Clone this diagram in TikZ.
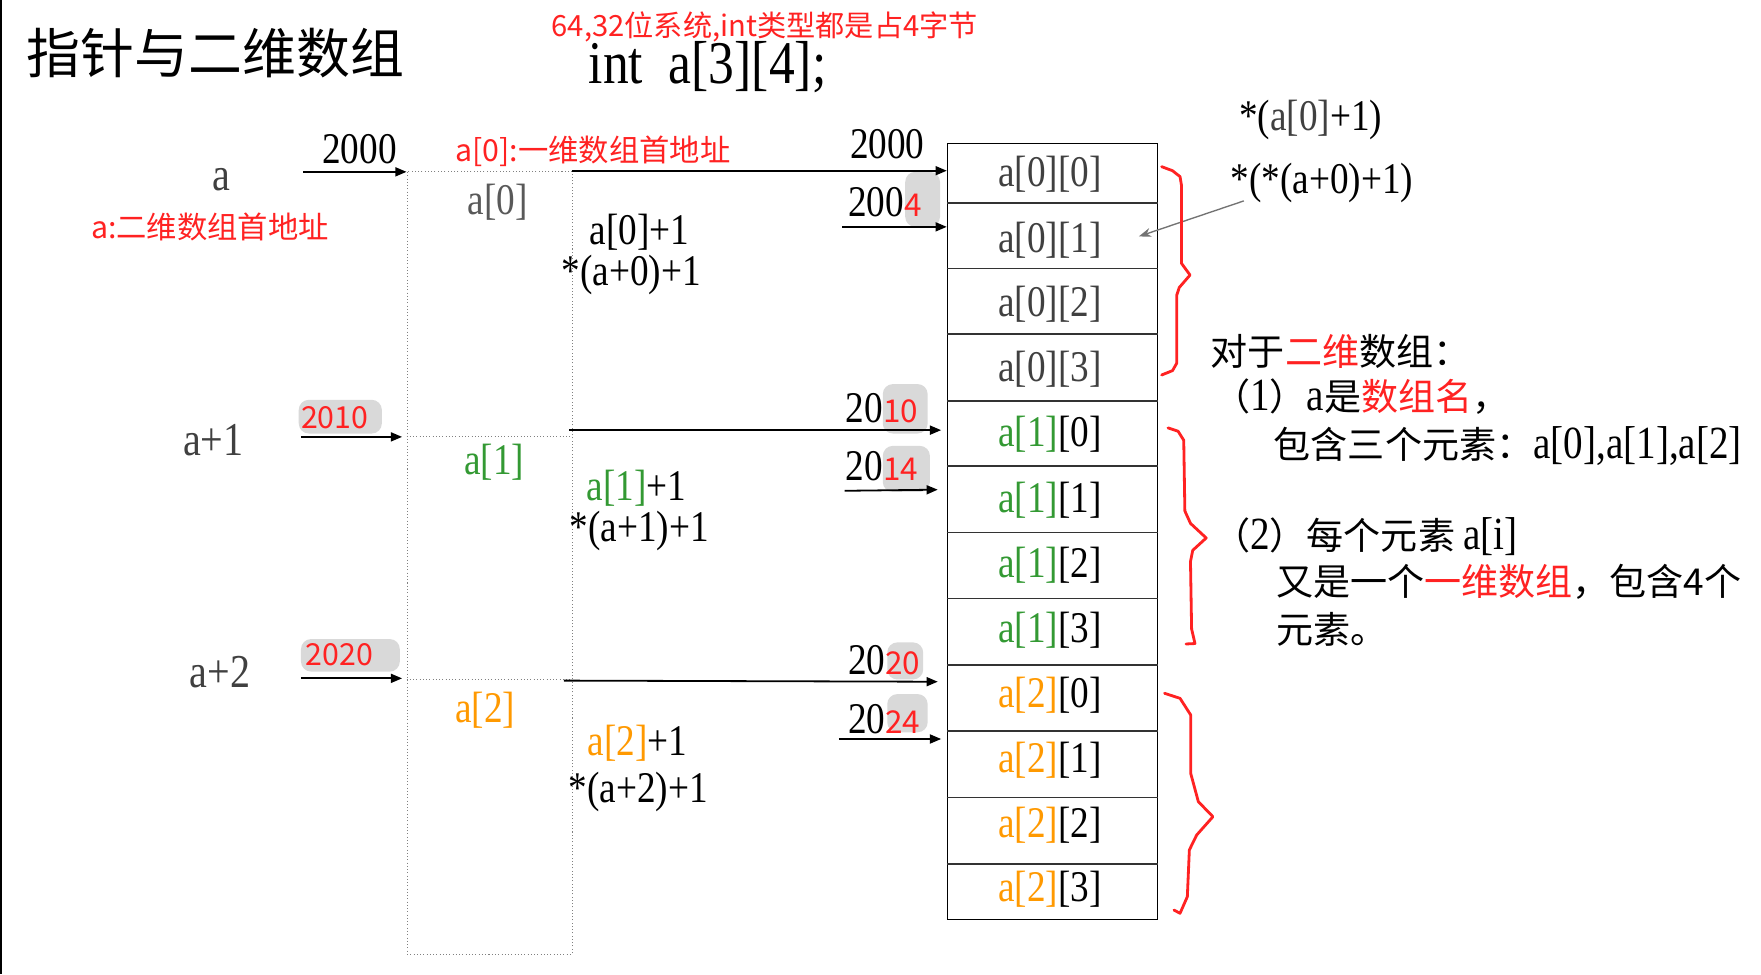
\documentclass[tikz,border=0pt]{standalone}
\usepackage{fontspec}
\usetikzlibrary{arrows.meta}
\newfontfamily\tnr[FakeStretch=0.85]{Liberation Serif}
\newfontfamily\cjk{Noto Sans CJK SC}
\newcommand\myfs[1]{\fontsize{#1}{#1}\selectfont}
\definecolor{txtgray}{HTML}{404040}
\definecolor{grn}{HTML}{339933}
\definecolor{org}{HTML}{FF9900}
\definecolor{rd}{HTML}{FF2222}
\definecolor{blob}{HTML}{D9D9D9}
\begin{document}
\begin{tikzpicture}[x=1pt,y=-1pt,
  lbl/.style={font=\tnr\myfs{39}, inner sep=0pt, text=txtgray},
  num/.style={font=\tnr\myfs{39}, inner sep=0pt, text=black},
  rnote/.style={font=\cjk\myfs{27}, inner sep=0pt, text=rd},
  side/.style={font=\cjk\myfs{33}, inner sep=0pt, text=black, anchor=west},
  ptr/.style={line width=1.6pt, -{Triangle[length=10pt,width=8pt]}},
  cellline/.style={line width=1.5pt, draw=black!80},
  dotline/.style={draw=gray, dotted, line width=0.9pt},
  bracepath/.style={draw=rd, line width=2.5pt, line join=round, line cap=round},
  blobfill/.style={fill=blob, rounded corners=9pt, draw=none},
  grayarrow/.style={draw=black!55, line width=1.2pt, -{Stealth[length=11pt,width=8pt]}}
]
\useasboundingbox (0,0) rectangle (1568,867.3);
\fill[white] (0,0) rectangle (1568,867.3);
\draw[line width=1.5pt] (1,0) -- (1,867.3);

% title and header
\node[font=\cjk\myfs{48}, inner sep=0pt] (title) at (192,47) {指针与二维数组};
\node[font=\cjk\myfs{26}, text=rd, inner sep=0pt] (sysnote) at (681,24) {64,32位系统,int类型都是占4字节};
\node[font=\tnr\myfs{54}, inner sep=0pt] (decl) at (630,60) {int\ \ a[3][4];};

% gray blobs behind red digits
\path[blobfill] (266,356) rectangle (340,386);
\path[blobfill] (268,569) rectangle (356,598);
\path[blobfill] (806,153) rectangle (837,202);
\path[blobfill] (786,342) rectangle (826,386);
\path[blobfill] (786,397) rectangle (828,438);
\path[blobfill] (790,572) rectangle (822,605);
\path[blobfill] (790,618) rectangle (826,652);

% left pointer labels
\node[lbl, font=\tnr\myfs{42}] (la) at (197,160) {a};
\node[rnote] (lanote) at (187,202) {a:二维数组首地址};
\node[lbl, font=\tnr\myfs{42}] (la1) at (190,392) {a+1};
\node[lbl, font=\tnr\myfs{42}] (la2) at (196,598) {a+2};
\node[num] (ad0) at (320,133) {2000};
\node[rnote] (ad1) at (298,372) {2010};
\node[rnote] (ad2) at (302,583) {2020};

% middle column (dotted)
\node[dotline, minimum width=147pt, minimum height=697pt, inner sep=0pt, anchor=north west] (col) at (362,152) {};
\draw[dotline] (362,389) -- (509,389);
\draw[dotline] (362,605) -- (509,605);
\node[lbl, text=black!65] (r0) at (443,180) {a[0]};
\node[lbl, text=grn] (r1) at (440,412) {a[1]};
\node[lbl, text=org] (r2) at (432,632) {a[2]};
\node[rnote] (r0note) at (528,135) {a[0]:一维数组首地址};

\node[num, anchor=west] (p0a) at (525,207) {a[0]+1};
\node[num, anchor=west] (p0b) at (500,245) {*(a+0)+1};
\node[num, anchor=west] (p1a) at (522,435) {\textcolor{grn}{a[1]}+1};
\node[num, anchor=west] (p1b) at (507,473) {*(a+1)+1};
\node[num, anchor=west] (p2a) at (523,662) {\textcolor{org}{a[2]}+1};
\node[num, anchor=west] (p2b) at (506,705) {*(a+2)+1};

% right address labels
\node[num] (b00) at (790,128) {2000};
\node[num, anchor=west] (b01) at (755,180) {200{\cjk\myfs{28}\color{rd}4}};
\node[num, anchor=west] (b10) at (753,363) {20{\cjk\myfs{28}\color{rd}10}};
\node[num, anchor=west] (b11) at (753,415) {20{\cjk\myfs{28}\color{rd}14}};
\node[num, anchor=west] (b20) at (755,588) {20{\cjk\myfs{28}\color{rd}20}};
\node[num, anchor=west] (b21) at (755,640) {20{\cjk\myfs{28}\color{rd}24}};

% array box
\node[draw, line width=1.5pt, minimum width=187pt, minimum height=691pt, inner sep=0pt, anchor=north west] (arr) at (843,127) {};
\foreach \yy in {180.5,239,297.5,357,415,474,533,592,651,710,769}
  \draw[cellline] (843,\yy) -- (1031,\yy);

\node[lbl] (c00) at (935,155) {a[0][0]};
\node[lbl] (c01) at (935,214) {a[0][1]};
\node[lbl] (c02) at (935,271) {a[0][2]};
\node[lbl] (c03) at (935,329) {a[0][3]};
\node[lbl, text=black] (c10) at (935,387) {\textcolor{grn}{a[1]}[0]};
\node[lbl, text=black] (c11) at (935,445) {\textcolor{grn}{a[1]}[1]};
\node[lbl, text=black] (c12) at (935,503) {\textcolor{grn}{a[1]}[2]};
\node[lbl, text=black] (c13) at (935,561) {\textcolor{grn}{a[1]}[3]};
\node[lbl, text=black] (c20) at (935,619) {\textcolor{org}{a[2]}[0]};
\node[lbl, text=black] (c21) at (935,677) {\textcolor{org}{a[2]}[1]};
\node[lbl, text=black] (c22) at (935,735) {\textcolor{org}{a[2]}[2]};
\node[lbl, text=black] (c23) at (935,792) {\textcolor{org}{a[2]}[3]};

% arrow coordinates
\coordinate (sa) at (270,153);   \coordinate (ea) at (362,153);
\coordinate (sa1) at (268,389);  \coordinate (ea1) at (358,389);
\coordinate (sa2) at (268,604);  \coordinate (ea2) at (358,604);
\coordinate (s00) at (509,152);  \coordinate (e00) at (843,152);
\coordinate (s01) at (750,202);  \coordinate (e01) at (843,202);
\coordinate (s10) at (507,383);  \coordinate (e10) at (838,383);
\coordinate (s11) at (752,437);  \coordinate (e11) at (835,436);
\coordinate (s20) at (502,606);  \coordinate (e20) at (835,607);
\coordinate (s21) at (747,658);  \coordinate (e21) at (838,658);
\draw[ptr] (sa) -- (ea);
\draw[ptr] (sa1) -- (ea1);
\draw[ptr] (sa2) -- (ea2);
\draw[ptr] (s00) -- (e00);
\draw[ptr] (s01) -- (e01);
\draw[ptr] (s10) -- (e10);
\draw[ptr] (s11) -- (e11);
\draw[ptr] (s20) -- (e20);
\draw[ptr] (s21) -- (e21);

% top-right expressions
\node[num] (q1) at (1167,107) {*(\textcolor{txtgray}{a[0]}+1)};
\node[num] (q2) at (1177,163) {*(*(a+0)+1)};
\coordinate (qtip) at (1014,210.5);
\draw[grayarrow] ([xshift=12pt,yshift=2pt]q2.south west) -- (qtip);

% braces
\draw[bracepath] (1034.3,148.4) -- (1044,152) -- (1050.7,157.3) -- (1052,165) -- (1052,234.5) -- (1059.6,244.9) -- (1050,256) -- (1047.7,263) -- (1047.7,323.5) -- (1044,330) -- (1034.3,333.9);
\draw[bracepath] (1040,381) -- (1049,384) -- (1054,392) -- (1055,455) -- (1060,466) -- (1074,479) -- (1062,490) -- (1060,500) -- (1061,560) -- (1064,573) -- (1056,573.4);
\draw[bracepath] (1036.9,617.3) -- (1050.7,621.8) -- (1060.2,636.6) -- (1060.2,688.6) -- (1067,713.8) -- (1080,727.2) -- (1065.5,743.5) -- (1059,756.8) -- (1057.2,798.4) -- (1050.7,813.2) -- (1045.3,810.3);

% explanation text
\node[side] (t1) at (1078,313) {对于\textcolor{rd}{二维}数组：};
\node[side] (t2) at (1080,353) {（{\tnr\myfs{41}1}）{\tnr\myfs{41}a}是\textcolor{rd}{数组名}，};
\node[side] (t3) at (1134,397) {包含三个元素：{\tnr\myfs{41}a[0],a[1],a[2]}};
\node[side] (t4) at (1080,478) {（{\tnr\myfs{41}2}）每个元素 {\tnr\myfs{41}a[i]}};
\node[side] (t5) at (1136,518) {又是一个\textcolor{rd}{一维数组}，包含4个};
\node[side] (t6) at (1136,560) {元素。};
\end{tikzpicture}
\end{document}
